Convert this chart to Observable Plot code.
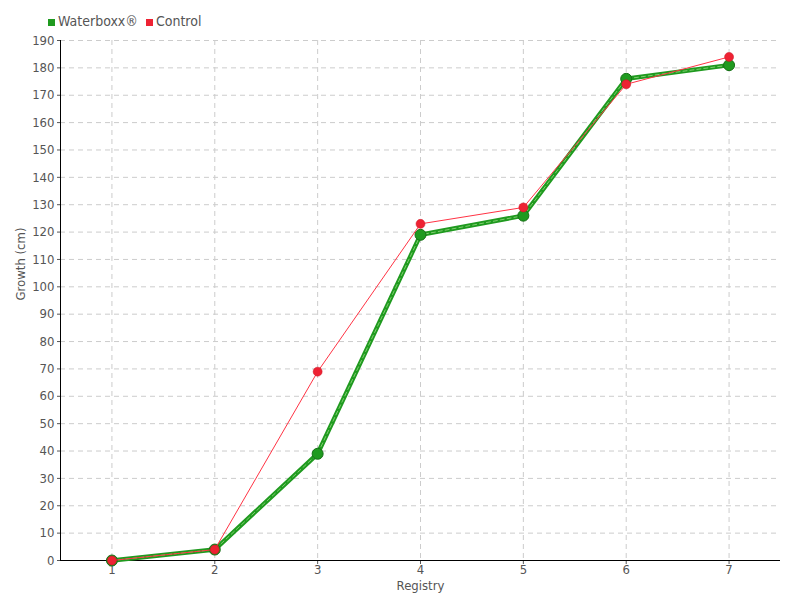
<!DOCTYPE html>
<html><head><meta charset="utf-8">
<script src="https://cdn.jsdelivr.net/npm/d3@7"></script>
<script src="https://cdn.jsdelivr.net/npm/@observablehq/plot@0.6"></script>
<style>
body{margin:0;background:#fff;font-family:"DejaVu Sans Condensed","DejaVu Sans",sans-serif;font-stretch:condensed;}
#wrap{position:relative;width:800px;height:600px;}
#legend{position:absolute;left:48px;top:13px;font-size:14px;color:#555;display:flex;gap:8px;align-items:center;font-stretch:condensed;}
#legend span.sw{display:inline-block;width:7px;height:7px;margin-right:3px;vertical-align:middle;}
svg text{font-stretch:condensed;}
</style></head>
<body><div id="wrap"><div id="legend"></div><div id="chart"></div></div>
<script>
const registry = [1,2,3,4,5,6,7];
const waterboxx = [0,4,39,119,126,176,181];
const control = [0,4,69,123,129,174,184];
const yTicks = d3.range(0,191,10);
const seriesNames = ["Waterboxx®","Control"];
const seriesColors = ["#1f9a1f","#ee2233"];

const wData = registry.map((r,i)=>({x:r,y:waterboxx[i]}));
const cData = registry.map((r,i)=>({x:r,y:control[i]}));

const leg = document.getElementById("legend");
seriesNames.forEach((n,i)=>{
  const s=document.createElement("span");
  s.innerHTML=`<span class="sw" style="background:${seriesColors[i]}"></span>${n}`;
  leg.appendChild(s);
});

const FONT='"DejaVu Sans Condensed","DejaVu Sans",sans-serif';
const chart = Plot.plot({
  width:800,height:600,
  marginTop:40,marginBottom:40,marginLeft:60,marginRight:20,
  style:{fontFamily:FONT,fontSize:"13px",color:"#555",background:"#fff"},
  x:{domain:[0.5,7.5],ticks:registry,tickFormat:"d",label:null},
  y:{domain:[0,190],ticks:yTicks,label:null},
  marks:[
    Plot.gridX(registry,{stroke:"#ccc",strokeOpacity:1,strokeDasharray:"5,4"}),
    Plot.gridY(yTicks.filter(d=>d>0),{stroke:"#ccc",strokeOpacity:1,strokeDasharray:"5,4"}),
    Plot.axisY({ticks:yTicks,tickSize:3,tickPadding:3,fontSize:13,label:null}),
    Plot.axisX({ticks:registry,tickSize:4,tickPadding:0,tickFormat:"d",fontSize:13,label:null}),
    Plot.ruleY([0],{stroke:"#000"}),
    Plot.ruleX([0.5],{stroke:"#000"}),
    Plot.line(wData,{x:"x",y:"y",stroke:"#1f9a1f",strokeWidth:4.5}),
    Plot.line(wData,{x:"x",y:"y",stroke:"#7fcf6f",strokeWidth:1,strokeDasharray:"4,3"}),
    Plot.dot(wData,{x:"x",y:"y",r:5.5,fill:"#1f9a1f",stroke:"#157015",strokeWidth:1}),
    Plot.line(cData,{x:"x",y:"y",stroke:"#ff3344",strokeWidth:1}),
    Plot.dot(cData,{x:"x",y:"y",r:4.5,fill:"#ee2233",stroke:"#cc1122",strokeWidth:0.5}),
    Plot.text(["Registry"],{frameAnchor:"bottom",dy:29,fontSize:13,fill:"#555"}),
    Plot.text(["Growth (cm)"],{frameAnchor:"left",dx:-40,rotate:-90,fontSize:13,fill:"#555"})
  ]
});
document.getElementById("chart").appendChild(chart);
</script></body></html>
